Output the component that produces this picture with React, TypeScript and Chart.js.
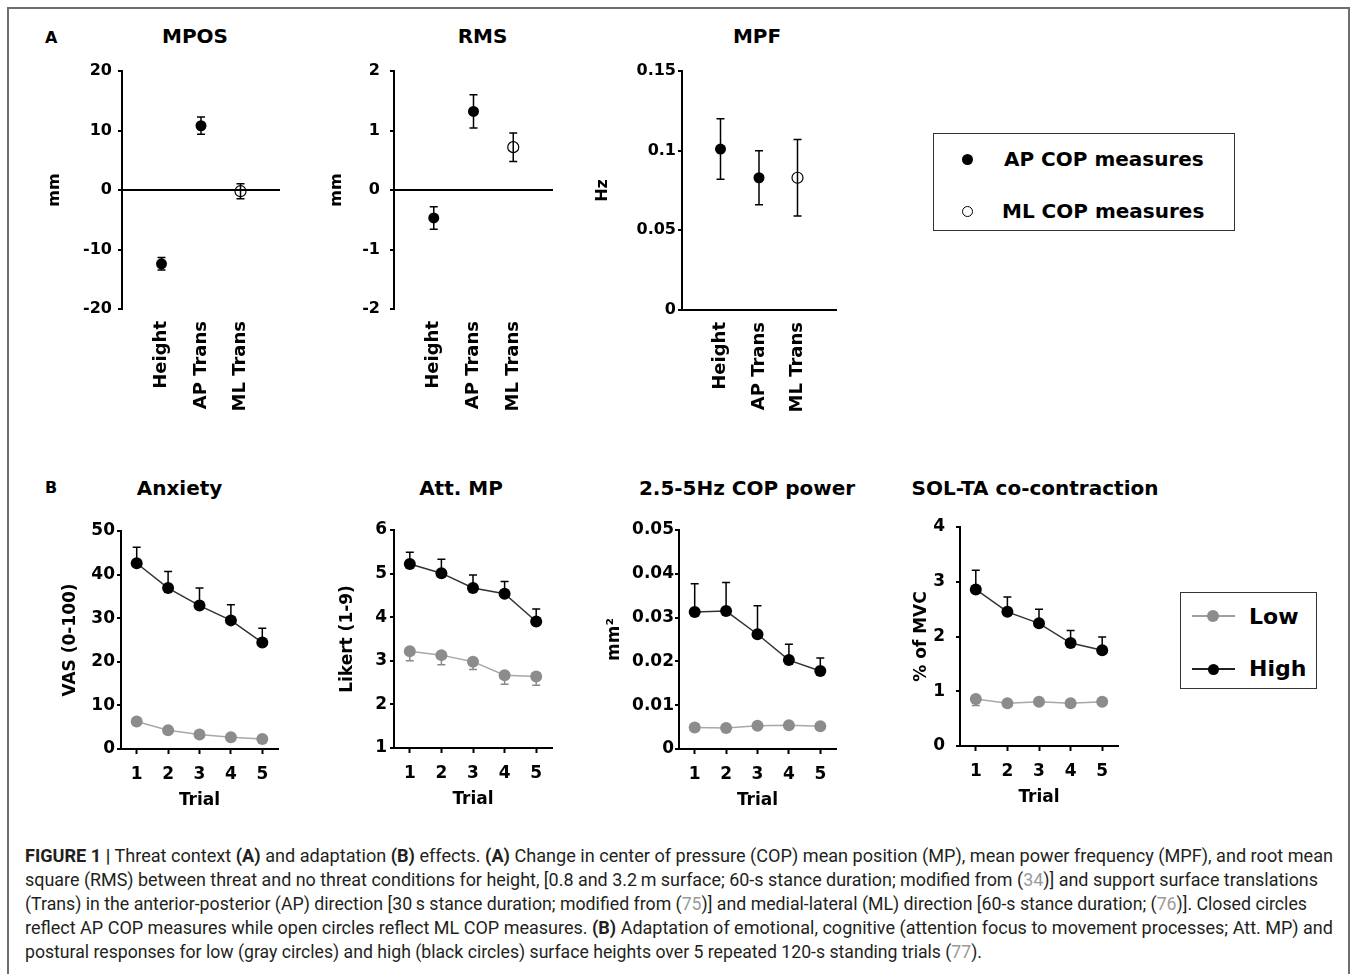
import React, { useEffect, useRef } from 'react';
import { Chart, registerables } from 'chart.js';

Chart.register(...registerables);

const FONT = '"DejaVu Sans", "Liberation Sans", Arial, sans-serif';
const CAPTION_FONT = '"Liberation Sans Narrow", Roboto, "Liberation Sans", sans-serif';

// ---------------- Panel A data ----------------
const A_CATEGORIES = ['Height', 'AP Trans', 'ML Trans'];
const A_MEASURE = ['AP', 'AP', 'ML'];
const MPOS_VALUES = [-12.4, 10.8, -0.2];
const MPOS_ERRORS = [1.05, 1.45, 1.25];
const MPOS_TICKS = [-20, -10, 0, 10, 20];
const RMS_VALUES = [-0.47, 1.32, 0.72];
const RMS_ERRORS = [0.19, 0.28, 0.24];
const RMS_TICKS = [-2, -1, 0, 1, 2];
const MPF_VALUES = [0.101, 0.083, 0.083];
const MPF_ERRORS = [0.019, 0.017, 0.024];
const MPF_TICKS = [0, 0.05, 0.1, 0.15];

// ---------------- Panel B data ----------------
const TRIALS = ['1', '2', '3', '4', '5'];
const ANX_HIGH = [42.6, 36.9, 32.9, 29.5, 24.4];
const ANX_HIGH_ERR = [3.7, 3.8, 4.0, 3.6, 3.3];
const ANX_LOW = [6.3, 4.3, 3.3, 2.7, 2.3];
const ANX_LOW_ERR = [0.8, 0.4, 0.4, 0.3, 0.3];
const ANX_TICKS = [0, 10, 20, 30, 40, 50];

const ATT_HIGH = [5.22, 5.01, 4.67, 4.54, 3.9];
const ATT_HIGH_ERR = [0.27, 0.32, 0.3, 0.28, 0.29];
const ATT_LOW = [3.22, 3.13, 2.98, 2.67, 2.64];
const ATT_LOW_ERR = [0.22, 0.22, 0.18, 0.21, 0.2];
const ATT_TICKS = [1, 2, 3, 4, 5, 6];

const COP_HIGH = [0.0313, 0.0315, 0.0262, 0.0203, 0.0178];
const COP_HIGH_ERR = [0.0064, 0.0065, 0.0065, 0.0036, 0.003];
const COP_LOW = [0.0049, 0.0048, 0.0053, 0.0054, 0.0052];
const COP_LOW_ERR = [0.0004, 0.0004, 0.0004, 0.0004, 0.0004];
const COP_TICKS = [0, 0.01, 0.02, 0.03, 0.04, 0.05];

const SOL_HIGH = [2.86, 2.45, 2.24, 1.88, 1.75];
const SOL_HIGH_ERR = [0.35, 0.27, 0.26, 0.23, 0.24];
const SOL_LOW = [0.86, 0.78, 0.81, 0.78, 0.81];
const SOL_LOW_ERR = [0.12, 0.05, 0.05, 0.05, 0.05];
const SOL_TICKS = [0, 1, 2, 3, 4];

// ---------------- plugins ----------------
const errorBarPlugin = {
  id: 'errorBars',
  beforeDatasetsDraw(chart: any) {
    const ctx = chart.ctx;
    const yScale = chart.scales.y;
    chart.data.datasets.forEach((ds: any, i: number) => {
      if (!ds.errors) return;
      const meta = chart.getDatasetMeta(i);
      meta.data.forEach((el: any, j: number) => {
        const raw = ds.data[j];
        const v = typeof raw === 'number' ? raw : raw && raw.y;
        const e = ds.errors[j];
        if (v == null || e == null) return;
        const x = el.x;
        const yc = yScale.getPixelForValue(v);
        const yHi = yScale.getPixelForValue(v + e);
        const yLo = yScale.getPixelForValue(v - e);
        const cap = 4;
        ctx.save();
        ctx.strokeStyle = ds.errColor;
        ctx.lineWidth = 1.5;
        ctx.beginPath();
        if (ds.errDir !== 'down') {
          ctx.moveTo(x, yc); ctx.lineTo(x, yHi);
          ctx.moveTo(x - cap, yHi); ctx.lineTo(x + cap, yHi);
        }
        if (ds.errDir !== 'up') {
          ctx.moveTo(x, yc); ctx.lineTo(x, yLo);
          ctx.moveTo(x - cap, yLo); ctx.lineTo(x + cap, yLo);
        }
        ctx.stroke();
        ctx.restore();
      });
    });
  },
};

const bold = (size: number) => ({ family: FONT, size, weight: 'bold' as const });

function yScaleOpts(p: { ticks: number[]; title: string; width: number; pad: number; zeroLine: boolean; tickSize: number; titleSize: number }) {
  return {
    min: p.ticks[0],
    max: p.ticks[p.ticks.length - 1],
    afterBuildTicks: (s: any) => { s.ticks = p.ticks.map((v) => ({ value: v })); },
    afterFit: (s: any) => { s.width = p.width; s.paddingTop = 0; s.paddingBottom = 0; },
    border: { display: true, color: '#000', width: 2 },
    grid: {
      display: true,
      drawOnChartArea: p.zeroLine,
      drawTicks: true,
      tickLength: 4,
      tickWidth: 2,
      tickColor: '#000',
      lineWidth: 2,
      color: (c: any) => (p.zeroLine ? (c.tick && c.tick.value === 0 ? '#000' : 'rgba(0,0,0,0)') : '#000'),
    },
    ticks: { color: '#000', font: bold(p.tickSize), padding: p.pad, callback: (v: any) => String(v) },
    title: { display: true, text: p.title, color: '#000', font: bold(p.titleSize), padding: 0 },
  };
}

function panelAConfig(p: { values: number[]; errors: number[]; ticks: number[]; title: string; yWidth: number; pad: number; zeroLine: boolean }) {
  const ap: any[] = [], apErr: number[] = [], ml: any[] = [], mlErr: number[] = [];
  A_CATEGORIES.forEach((c, i) => {
    const pt = { x: c, y: p.values[i] };
    if (A_MEASURE[i] === 'AP') { ap.push(pt); apErr.push(p.errors[i]); }
    else { ml.push(pt); mlErr.push(p.errors[i]); }
  });
  return {
    type: 'line',
    data: {
      labels: ['', ...A_CATEGORIES, ''],
      datasets: [
        { label: 'AP COP measures', data: ap, errors: apErr, errDir: 'both', errColor: '#000', showLine: false,
          pointRadius: 5.5, pointBackgroundColor: '#000', pointBorderColor: '#000', pointBorderWidth: 0, clip: false },
        { label: 'ML COP measures', data: ml, errors: mlErr, errDir: 'both', errColor: '#000', showLine: false,
          pointRadius: 5.5, pointBackgroundColor: 'rgba(0,0,0,0)', pointBorderColor: '#000', pointBorderWidth: 1.2, clip: false },
      ],
    },
    options: {
      responsive: false, animation: false, devicePixelRatio: 1,
      layout: { padding: { left: 0, top: 14, right: 12, bottom: 0 } },
      plugins: { legend: { display: false }, tooltip: { enabled: false } },
      scales: {
        x: {
          type: 'category', offset: false,
          grid: { display: false, drawTicks: false },
          border: { display: !p.zeroLine, color: '#000', width: 2 },
          ticks: { autoSkip: false, minRotation: 90, maxRotation: 90, padding: 12, color: '#000', font: bold(18) },
          afterFit: (s: any) => { s.height = 112; s.paddingLeft = 0; s.paddingRight = 0; },
        },
        y: yScaleOpts({ ticks: p.ticks, title: p.title, width: p.yWidth, pad: p.pad, zeroLine: p.zeroLine, tickSize: 16, titleSize: 16 }),
      },
    },
    plugins: [errorBarPlugin],
  };
}

function panelBConfig(p: { high: number[]; highErr: number[]; low: number[]; lowErr: number[]; ticks: number[]; title: string; yWidth: number; pad: number }) {
  return {
    type: 'line',
    data: {
      labels: TRIALS,
      datasets: [
        { label: 'High', data: p.high, errors: p.highErr, errDir: 'up', errColor: '#000', borderColor: '#333', borderWidth: 1.5,
          pointRadius: 6, pointBackgroundColor: '#000', pointBorderColor: '#000', pointBorderWidth: 0, tension: 0, clip: false },
        { label: 'Low', data: p.low, errors: p.lowErr, errDir: 'down', errColor: '#8a8a8a', borderColor: '#a8a8a8', borderWidth: 1.5,
          pointRadius: 6, pointBackgroundColor: '#8c8c8c', pointBorderColor: '#8c8c8c', pointBorderWidth: 0, tension: 0, clip: false },
      ],
    },
    options: {
      responsive: false, animation: false, devicePixelRatio: 1,
      layout: { padding: { left: 0, top: 14, right: 12, bottom: 0 } },
      plugins: { legend: { display: false }, tooltip: { enabled: false } },
      scales: {
        x: {
          type: 'category', offset: true,
          grid: { display: true, drawOnChartArea: false, drawTicks: true, tickLength: 5, tickWidth: 2, color: '#000', offset: false },
          border: { display: true, color: '#000', width: 2 },
          ticks: { autoSkip: false, maxRotation: 0, padding: 10, color: '#000', font: bold(17) },
          title: { display: true, text: 'Trial', color: '#000', font: bold(17), padding: 0 },
          afterFit: (s: any) => { s.height = 62; s.paddingLeft = 0; s.paddingRight = 0; },
        },
        y: yScaleOpts({ ticks: p.ticks, title: p.title, width: p.yWidth, pad: p.pad, zeroLine: false, tickSize: 17, titleSize: 17 }),
      },
    },
    plugins: [errorBarPlugin],
  };
}

function ChartBox(props: { left: number; top: number; width: number; height: number; config: () => any }) {
  const ref = useRef<HTMLCanvasElement>(null);
  useEffect(() => {
    const chart = new Chart(ref.current as HTMLCanvasElement, props.config());
    return () => chart.destroy();
  }, []);
  return (
    <canvas ref={ref} width={props.width} height={props.height}
      style={{ position: 'absolute', left: props.left, top: props.top, width: props.width, height: props.height }} />
  );
}

function Txt(props: { text: string; capY: number; size: number; left?: number; cx?: number }) {
  const top = props.capY - 0.5815 * props.size;
  const style: any = {
    position: 'absolute', top, fontFamily: FONT, fontWeight: 'bold', fontSize: props.size,
    lineHeight: `${1.2 * props.size}px`, whiteSpace: 'nowrap', color: '#000',
  };
  if (props.cx != null) { style.left = props.cx - 200; style.width = 400; style.textAlign = 'center'; }
  else style.left = props.left;
  return <div style={style}>{props.text}</div>;
}

function Dot(props: { cx: number; cy: number; d: number; fill: string; border?: string }) {
  return (
    <div style={{
      position: 'absolute', left: props.cx - props.d / 2, top: props.cy - props.d / 2, width: props.d, height: props.d,
      borderRadius: '50%', background: props.fill, border: props.border || 'none', boxSizing: 'border-box',
    }} />
  );
}

type Seg = [string, string?];
const CAPTION: { segs: Seg[]; len: number }[] = [
  { len: 1308, segs: [['FIGURE 1 |', 'b'], [' Threat context '], ['(A)', 'b'], [' and adaptation '], ['(B)', 'b'], [' effects. '], ['(A)', 'b'], [' Change in center of pressure (COP) mean position (MP), mean power frequency (MPF), and root mean']] },
  { len: 1293, segs: [['square (RMS) between threat and no threat conditions for height, [0.8 and 3.2\u2009m surface; 60-s stance duration; modified from ('], ['34', 'r'], [')] and support surface translations']] },
  { len: 1282, segs: [['(Trans) in the anterior-posterior (AP) direction [30\u2009s stance duration; modified from ('], ['75', 'r'], [')] and medial-lateral (ML) direction [60-s stance duration; ('], ['76', 'r'], [')]. Closed circles']] },
  { len: 1308, segs: [['reflect AP COP measures while open circles reflect ML COP measures. '], ['(B)', 'b'], [' Adaptation of emotional, cognitive (attention focus to movement processes; Att. MP) and']] },
  { len: 957, segs: [['postural responses for low (gray circles) and high (black circles) surface heights over 5 repeated 120-s standing trials ('], ['77', 'r'], [').']] },
];

export default function App() {
  return (
    <div style={{ position: 'absolute', left: 0, top: 0, width: 1357, height: 974, overflow: 'hidden', background: '#fff' }}>
      <div style={{ position: 'absolute', left: 7, top: 7, width: 1343, height: 967, boxSizing: 'border-box',
        borderLeft: '2px solid #6e6e6e', borderTop: '2px solid #6e6e6e', borderRight: '2px solid #6e6e6e' }} />

      {/* Panel A */}
      <Txt text="A" left={45} capY={37} size={16} />
      <Txt text="MPOS" cx={195} capY={35.5} size={20} />
      <Txt text="RMS" cx={482.5} capY={35.5} size={20} />
      <Txt text="MPF" cx={757} capY={35.5} size={20} />

      <ChartBox left={45} top={57} width={247} height={364}
        config={() => panelAConfig({ values: MPOS_VALUES, errors: MPOS_ERRORS, ticks: MPOS_TICKS, title: 'mm', yWidth: 77, pad: 6, zeroLine: true })} />
      <ChartBox left={327} top={57} width={238} height={364}
        config={() => panelAConfig({ values: RMS_VALUES, errors: RMS_ERRORS, ticks: RMS_TICKS, title: 'mm', yWidth: 67, pad: 10, zeroLine: true })} />
      <ChartBox left={593} top={57} width={255} height={365}
        config={() => panelAConfig({ values: MPF_VALUES, errors: MPF_ERRORS, ticks: MPF_TICKS, title: 'Hz', yWidth: 89, pad: 2, zeroLine: false })} />

      {/* Legend A */}
      <div style={{ position: 'absolute', left: 933, top: 133, width: 302, height: 98, border: '1.5px solid #333', boxSizing: 'border-box' }} />
      <Dot cx={967} cy={159} d={11} fill="#000" />
      <Txt text="AP COP measures" left={1004} capY={159} size={20} />
      <Dot cx={967} cy={211} d={11} fill="#fff" border="1.2px solid #000" />
      <Txt text="ML COP measures" left={1002} capY={211} size={20} />

      {/* Panel B */}
      <Txt text="B" left={45} capY={487.5} size={16} />
      <Txt text="Anxiety" cx={179.5} capY={488} size={20} />
      <Txt text="Att. MP" cx={461} capY={488} size={20} />
      <Txt text="2.5-5Hz COP power" cx={747} capY={488} size={20} />
      <Txt text="SOL-TA co-contraction" cx={1035} capY={488} size={20} />

      <ChartBox left={60} top={517} width={230} height={294}
        config={() => panelBConfig({ high: ANX_HIGH, highErr: ANX_HIGH_ERR, low: ANX_LOW, lowErr: ANX_LOW_ERR, ticks: ANX_TICKS, title: 'VAS (0-100)', yWidth: 61, pad: 2 })} />
      <ChartBox left={337} top={516} width={227} height={294}
        config={() => panelBConfig({ high: ATT_HIGH, highErr: ATT_HIGH_ERR, low: ATT_LOW, lowErr: ATT_LOW_ERR, ticks: ATT_TICKS, title: 'Likert (1-9)', yWidth: 57, pad: 3 })} />
      <ChartBox left={604} top={516} width={244} height={295}
        config={() => panelBConfig({ high: COP_HIGH, highErr: COP_HIGH_ERR, low: COP_LOW, lowErr: COP_LOW_ERR, ticks: COP_TICKS, title: 'mm\u00B2', yWidth: 75, pad: 1 })} />
      <ChartBox left={911} top={513} width={219} height={295}
        config={() => panelBConfig({ high: SOL_HIGH, highErr: SOL_HIGH_ERR, low: SOL_LOW, lowErr: SOL_LOW_ERR, ticks: SOL_TICKS, title: '% of MVC', yWidth: 49, pad: 11 })} />

      {/* Legend B */}
      <div style={{ position: 'absolute', left: 1180, top: 592, width: 137, height: 97, border: '1.5px solid #333', boxSizing: 'border-box' }} />
      <div style={{ position: 'absolute', left: 1192, top: 615.25, width: 43, height: 1.5, background: '#a0a0a0' }} />
      <Dot cx={1213} cy={616} d={12} fill="#8c8c8c" />
      <Txt text="Low" left={1249} capY={616.5} size={22} />
      <div style={{ position: 'absolute', left: 1192, top: 668.25, width: 43, height: 1.5, background: '#222' }} />
      <Dot cx={1213} cy={669} d={11} fill="#000" />
      <Txt text="High" left={1249} capY={669} size={22} />

      {/* Caption */}
      <svg style={{ position: 'absolute', left: 0, top: 830 }} width={1357} height={140}>
        {CAPTION.map((line, i) => (
          <text key={i} x={25} y={31.7 + 24 * i} textLength={line.len} lengthAdjust="spacingAndGlyphs"
            style={{ whiteSpace: 'pre' }} fontFamily={CAPTION_FONT} fontSize={19} fill="#231f20">
            {line.segs.map((s, k) => (
              <tspan key={k} fontWeight={s[1] === 'b' ? 'bold' : 'normal'} fill={s[1] === 'r' ? '#9a9a9a' : '#231f20'}>{s[0]}</tspan>
            ))}
          </text>
        ))}
      </svg>
    </div>
  );
}
